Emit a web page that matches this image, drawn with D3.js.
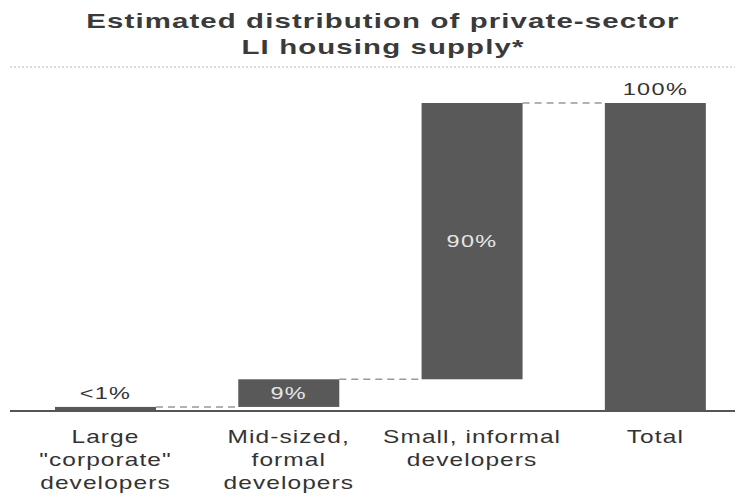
<!DOCTYPE html>
<html><head><meta charset="utf-8">
<script src="https://cdn.jsdelivr.net/npm/d3@7"></script>
<style>body{margin:0;background:#fff}svg{display:block}</style>
</head><body>
<svg id="c" width="735" height="502"></svg>
<script>
const categories = [["Large", "\"corporate\"", "developers"], ["Mid-sized,", "formal", "developers"], ["Small, informal", "developers"], ["Total"]];
const values = [1, 9, 90, 100];
const isTotal = [false, false, false, true];
const valueLabels = ["<1%", "9%", "90%", "100%"];
const titleLines = ["Estimated distribution of private-sector", "LI housing supply*"];

const svg = d3.select("#c");
const font = "'Liberation Sans', Arial, sans-serif";

// compute waterfall
let cum = 0;
const bars = values.map((v, i) => {
  let s, e;
  if (isTotal[i]) { s = 0; e = v; }
  else { s = cum; e = cum + v; cum = e; }
  return { i, s, e, v, label: valueLabels[i] };
});

const x = d3.scaleBand().domain(d3.range(categories.length)).range([13.85, 747]).paddingInner(0.449).paddingOuter(0.2245);
const y = d3.scaleLinear().domain([0, 100]).range([410, 103]);

// title
svg.append("g").selectAll("text").data(titleLines).join("text")
  .attr("transform", (d, i) => `translate(383,${28 + i * 26}) scale(1.4,1)`)
  .attr("text-anchor", "middle").attr("font-family", font).attr("font-weight", "bold")
  .attr("font-size", 21).attr("letter-spacing", 0.8).attr("fill", "#3a3a3a").text(d => d);

svg.append("line").attr("x1", 10).attr("x2", 735).attr("y1", 67).attr("y2", 67)
  .attr("stroke", "#cfcfcf").attr("stroke-width", 1.5).attr("stroke-dasharray", "2,2");

// connectors
const conn = [];
for (let i = 0; i < bars.length - 1; i++) {
  conn.push({ x1: x(i) + x.bandwidth(), x2: x(i + 1), yv: bars[i].e });
}
svg.append("g").selectAll("line").data(conn).join("line")
  .attr("x1", d => d.x1).attr("x2", d => d.x2)
  .attr("y1", d => y(d.yv)).attr("y2", d => y(d.yv))
  .attr("stroke", "#999").attr("stroke-width", 1.5).attr("stroke-dasharray", "7,5");

// bars
svg.append("g").selectAll("rect").data(bars).join("rect")
  .attr("x", d => x(d.i)).attr("width", x.bandwidth())
  .attr("y", d => y(d.e)).attr("height", d => y(d.s) - y(d.e))
  .attr("fill", "#595959");

// baseline
svg.append("line").attr("x1", 10).attr("x2", 735).attr("y1", y(0) + 1).attr("y2", y(0) + 1)
  .attr("stroke", "#555").attr("stroke-width", 2);

// value labels
const inside = d => (y(d.s) - y(d.e) > 24 && !isTotal[d.i]);
svg.append("g").selectAll("text").data(bars).join("text")
  .attr("transform", d => {
    const cx = x(d.i) + x.bandwidth() / 2;
    const cy = inside(d) ? (y(d.s) + y(d.e)) / 2 + 6 : y(d.e) - 8;
    return `translate(${cx},${cy}) scale(1.38,1)`;
  })
  .attr("text-anchor", "middle").attr("font-family", font).attr("font-size", 17).attr("letter-spacing", 1)
  .attr("fill", d => inside(d) ? "#e6e6e6" : "#333")
  .text(d => d.label);

// category labels
const cg = svg.append("g").selectAll("text").data(categories).join("text")
  .attr("transform", (d, i) => `translate(${x(i) + x.bandwidth() / 2},443) scale(1.36,1)`)
  .attr("text-anchor", "middle").attr("font-family", font).attr("font-size", 18).attr("letter-spacing", 0.8)
  .attr("fill", "#333");
cg.selectAll("tspan").data(d => d).join("tspan")
  .attr("x", 0).attr("y", (d, j) => j * 23).text(d => d);
</script>
</body></html>
